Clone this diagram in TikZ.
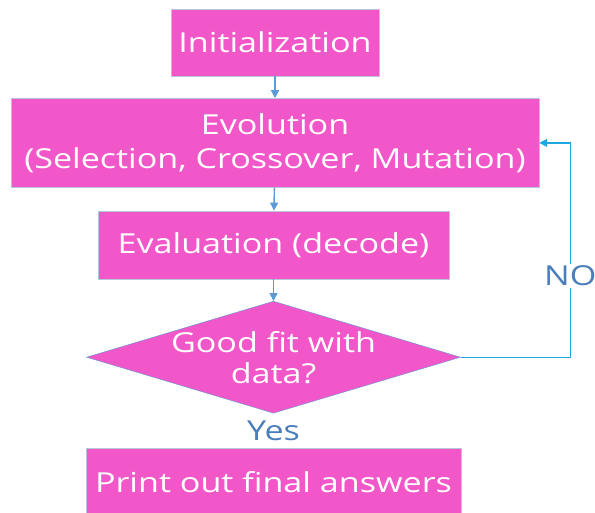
\documentclass[tikz,border=0pt]{standalone}
\usepackage{fontspec}
\setmainfont{Open Sans}[FakeStretch=1.24]
\usepackage{tikz}
\usepackage{xcolor}
\usetikzlibrary{positioning,shapes.geometric,arrows.meta}
\definecolor{boxpink}{HTML}{F257C9}
\definecolor{boxline}{HTML}{B7C6D8}
\definecolor{linkblue}{HTML}{5B9BD5}
\definecolor{loopblue}{HTML}{1FA7E1}
\definecolor{labelblue}{HTML}{4A7EBB}
\tikzset{
    flow-box/.style = {draw=boxline, fill=boxpink, text=white, rectangle, inner sep=0pt, align=center, font=\fontsize{27.5}{34}\selectfont},
    flow-test/.style = {flow-box, diamond, draw=linkblue, aspect=3.34, inner ysep=-3pt, minimum width=374pt, minimum height=112pt, font=\fontsize{27.5}{31}\selectfont},
    flow-link/.style = {draw=linkblue, line width=1.4pt, -{Triangle[length=8pt, width=8pt]}},
    loop-link/.style = {draw=loopblue, line width=1.2pt, -{Triangle[length=8pt, width=8pt]}},
    flow-label/.style = {text=labelblue, inner sep=2pt, font=\fontsize{27.5}{30}\selectfont},
}

\begin{document}
\begin{tikzpicture}[x=1pt, y=-1pt]
\useasboundingbox (0,0) rectangle (595,512);
\node [flow-box, minimum width=208pt, minimum height=67pt] (init) at (275,42.5) {Initialization};
\node [flow-box, minimum width=528pt, minimum height=89pt, below=22pt of init] (evol) {Evolution\\(Selection, Crossover, Mutation)};
\node [flow-box, minimum width=351pt, minimum height=68pt, below=23pt of evol, xshift=-1.5pt] (eval) {Evaluation (decode)};
\node [flow-test, below=22pt of eval] (test) {Good fit with\\data?};
\node [flow-label, below=5pt of test] (yes) {Yes};
\node [flow-box, minimum width=375pt, minimum height=68pt, below=5pt of yes] (print) {Print out final answers};

\draw [flow-link] (init) -- (evol);
\draw [flow-link] (evol) -- (eval);
\draw [flow-link] (eval) -- (test);
\draw [loop-link] (test.east) -| node[flow-label, fill=white, pos=0.69] (no) {NO} ([xshift=31pt]evol.east) -- (evol.east);
\end{tikzpicture}
\end{document}
